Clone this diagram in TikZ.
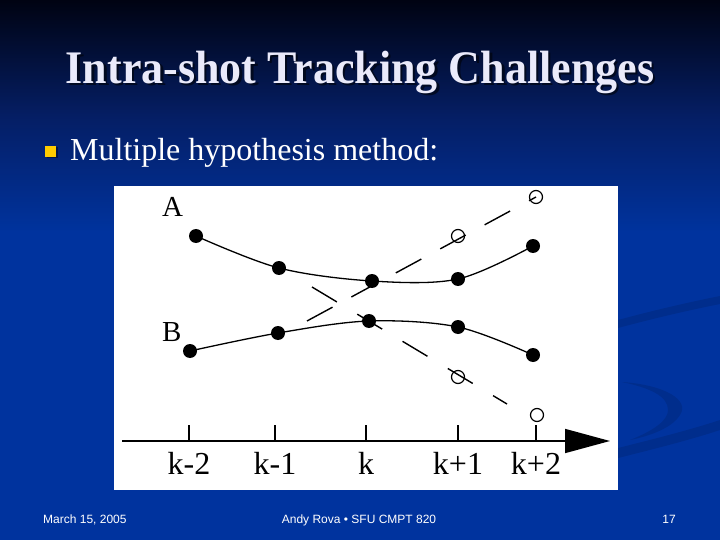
\documentclass[tikz,border=0pt]{standalone}
\usepackage{fontspec}
\setmainfont{Liberation Serif}
\newfontfamily\footfont{Liberation Sans}
\usetikzlibrary{arrows.meta}
\definecolor{slideblue}{RGB}{0,51,158}
\definecolor{slidetop}{RGB}{0,3,18}
\definecolor{slidemid}{RGB}{5,30,100}
\definecolor{titlecol}{RGB}{234,234,250}
\definecolor{bulletyel}{RGB}{255,204,0}
\tikzset{
  titletext/.style={font=\fontsize{44}{50}\selectfont\bfseries, text=titlecol, inner sep=0},
  shadowtext/.style={font=\fontsize{44}{50}\selectfont\bfseries, text=black, opacity=0.55, inner sep=0},
  bodytext/.style={font=\fontsize{32}{36}\selectfont, text=white, inner sep=0},
  foottext/.style={font=\footfont\fontsize{12}{14}\selectfont, text=white, inner sep=0},
  dot/.style={circle, fill=black, inner sep=0, minimum size=14pt},
  hollow/.style={circle, draw=black, line width=1.2pt, inner sep=0, minimum size=13pt},
  track/.style={line width=1.3pt, black},
  hypa/.style={line width=1.4pt, black, dash pattern=on 29pt off 21.5pt},
  hypb/.style={line width=1.4pt, black, dash pattern=on 29pt off 23.8pt},
  axisline/.style={line width=1.6pt, black},
  tickmark/.style={line width=1.3pt, black},
  ticklabel/.style={font=\fontsize{32}{36}\selectfont, text=black, inner sep=0, anchor=base},
  tracklabel/.style={font=\fontsize{29}{34}\selectfont, text=black, inner sep=0, anchor=base west},
  swoosh/.style={fill=black, opacity=0.11}
}
\begin{document}
\begin{tikzpicture}[x=1pt,y=-1pt]
\useasboundingbox (0,0) rectangle (720,540);
% background
\shade[top color=slidetop, bottom color=slideblue, middle color=slidemid] (0,0) rectangle (720,232);
\fill[slideblue] (0,231) rectangle (720,540);
% faint swooshes
\fill[swoosh] (618,320) .. controls (655,310) and (690,302) .. (720,296) -- (720,304) .. controls (690,310) and (655,318) .. (618,328) -- cycle;
\fill[swoosh] (622,382) .. controls (665,385) and (690,400) .. (680,415) .. controls (672,428) and (650,436) .. (630,440) .. controls (655,430) and (668,420) .. (668,410) .. controls (668,396) and (650,388) .. (622,382) -- cycle;
\fill[swoosh] (618,448) .. controls (650,440) and (690,430) .. (720,420) -- (720,430) .. controls (690,440) and (650,450) .. (618,458) -- cycle;
% title
\node[shadowtext, anchor=base] (titleshadow) at (362.5,86) {\scalebox{1}[1.06]{Intra-shot Tracking Challenges}};
\node[titletext, anchor=base] (title) at (360,83.5) {\scalebox{1}[1.06]{Intra-shot Tracking Challenges}};
% bullet
\fill[black, opacity=0.4] (46.5,147.5) rectangle (57.5,158.5);
\node[fill=bulletyel, inner sep=0, minimum size=11pt] (bullet) at (50.5,151.5) {};
\node[bodytext, anchor=base west] (body) at (70,161) {Multiple hypothesis method:};
% figure
\node[fill=white, minimum width=504pt, minimum height=304pt, inner sep=0] (fig) at (366,338) {};
% dashed hypotheses
\node[hollow] (o1) at (458,236) {};
\node[hollow] (o2) at (536,197) {};
\node[hollow] (o3) at (458,377) {};
\node[hollow] (o4) at (537,415) {};
\coordinate (d1s) at (307,321);
\coordinate (d2s) at (312,287);
\coordinate (d2e) at (507,404);
\draw[hypa] (d1s) -- (o2.center);
\draw[hypb] (d2s) -- (d2e);
% tracks
\node[dot] (a1) at (196,236) {};
\node[dot] (a2) at (279,268) {};
\node[dot] (a3) at (372,281) {};
\node[dot] (a4) at (458,279) {};
\node[dot] (a5) at (533,246) {};
\node[dot] (b1) at (190,351) {};
\node[dot] (b2) at (278,333) {};
\node[dot] (b3) at (369,321) {};
\node[dot] (b4) at (458,327) {};
\node[dot] (b5) at (533,355) {};
\draw[track] plot[smooth, tension=0.55] coordinates {(a1) (a2) (a3) (a4) (a5)};
\draw[track] plot[smooth, tension=0.55] coordinates {(b1) (b2) (b3) (b4) (b5)};
\node[tracklabel] (labA) at (162,217) {A};
\node[tracklabel] (labB) at (162,341) {B};
% axis
\coordinate (ax0) at (122,441);
\coordinate (ax1) at (610,441);
\draw[axisline, -{Triangle[length=45pt,width=24pt]}] (ax0) -- (ax1);
\foreach \x/\n/\l in {189/t1/k-2, 275/t2/k-1, 366/t3/k, 458/t4/k+1, 536/t5/k+2}{
  \coordinate (\n) at (\x,441);
  \coordinate (\n top) at (\x,425);
  \draw[tickmark] (\n) -- (\n top);
  \node[ticklabel] (\n lab) at (\x,474) {\l};
}
% footer
\node[foottext, anchor=base west] (date) at (43,523) {March 15, 2005};
\node[foottext, anchor=base] (author) at (359,523) {Andy Rova • SFU CMPT 820};
\node[foottext, anchor=base east] (page) at (676,523) {17};
\end{tikzpicture}
\end{document}
